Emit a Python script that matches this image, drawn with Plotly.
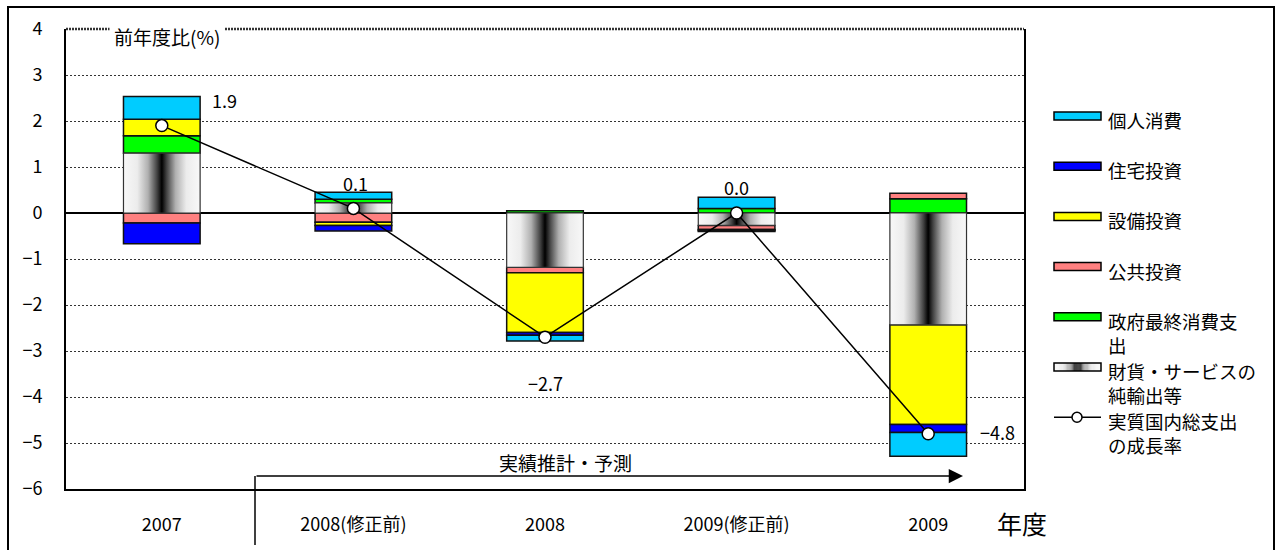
import plotly.graph_objects as go

# ---------------- data ----------------
categories = ["2007", "2008(修正前)", "2008", "2009(修正前)", "2009"]
net_exports = [1.30, 0.22, -1.18, -0.27, -2.43]       # 財貨・サービスの純輸出等
gov_consumption = [0.38, 0.08, 0.05, 0.10, 0.31]     # 政府最終消費支出
public_invest = [-0.22, -0.20, -0.12, -0.09, 0.12]   # 公共投資
capex = [0.36, -0.07, -1.30, -0.02, -2.17]           # 設備投資
housing = [-0.45, -0.12, -0.06, -0.02, -0.17]        # 住宅投資
personal = [0.49, 0.15, -0.12, 0.24, -0.52]          # 個人消費
gdp_growth = [1.9, 0.1, -2.7, 0.0, -4.8]             # 実質国内総支出の成長率

legend_labels = ["個人消費", "住宅投資", "設備投資", "公共投資",
                 "政府最終消費支<br>出", "財貨・サービスの<br>純輸出等",
                 "実質国内総支出<br>の成長率"]
y_title = "前年度比(%)"
x_title = "年度"
arrow_text = "実績推計・予測"

# ---------------- styles ----------------
FONT = "Noto Sans CJK JP"
C_PERSONAL = "#00CCFF"
C_HOUSING = "#0000FF"
C_CAPEX = "#FFFF00"
C_PUBLIC = "#FF8080"
C_GOV = "#00FF00"
BAR_W = 0.4
grad_scale = [[0, "#f8f8f8"], [0.18, "#ececec"], [0.32, "#b0b0b0"], [0.44, "#404040"],
              [0.5, "#000000"], [0.56, "#404040"], [0.68, "#b0b0b0"], [0.82, "#ececec"],
              [1, "#f8f8f8"]]
LEG_FONT = 18.5

W, H = 1282, 550
PL, PR, PT, PB = 66, 1024, 29, 489


def pxx(x):
    return (x - PL) / (PR - PL)


def pxy(y):
    return (PB - y) / (PB - PT)


xs = list(range(len(categories)))
fig = go.Figure()

# invisible base bar for net exports so stacking order is right
fig.add_trace(go.Bar(x=xs, y=net_exports, width=BAR_W, marker=dict(color="rgba(0,0,0,0)", line=dict(width=0)),
                     showlegend=False, hoverinfo="skip"))
stack = [(gov_consumption, C_GOV), (public_invest, C_PUBLIC), (capex, C_CAPEX),
         (housing, C_HOUSING), (personal, C_PERSONAL)]
for vals, col in stack:
    fig.add_trace(go.Bar(x=xs, y=vals, width=BAR_W,
                         marker=dict(color=col, line=dict(color="#111", width=1.5)),
                         showlegend=False))

# gradient boxes for net exports (drawn as filled polygons on the same axes)
for i, v in zip(xs, net_exports):
    x0, x1 = i - BAR_W / 2, i + BAR_W / 2
    fig.add_trace(go.Scatter(x=[x0, x1, x1, x0, x0], y=[0, 0, v, v, 0], mode="lines",
                             fill="toself", line=dict(color="#333", width=1.2),
                             fillgradient=dict(type="horizontal", colorscale=grad_scale, start=x0, stop=x1),
                             showlegend=False, hoverinfo="skip"))

# growth line
fig.add_trace(go.Scatter(x=xs, y=gdp_growth, mode="lines+markers",
                         line=dict(color="black", width=1.5),
                         marker=dict(symbol="circle", size=12, color="white", line=dict(color="black", width=1.5)),
                         showlegend=False))

annotations = []
shapes = []

# value labels
offsets = [(63, 26), (2, 25), (0, -46), (0, 26), (69, 2)]
for i, (v, (dx, dy)) in enumerate(zip(gdp_growth, offsets)):
    annotations.append(dict(x=i, y=v, xref="x", yref="y", text=f"{v:.1f}".replace("-", "−"),
                            showarrow=False, xshift=dx, yshift=dy, xanchor="center", yanchor="middle",
                            font=dict(size=18, color="black")))

# title with white background over top border
annotations.append(dict(x=pxx(167), y=pxy(36), xref="paper", yref="paper", text=y_title, showarrow=False,
                        xanchor="center", yanchor="middle",
                        bgcolor="white", borderpad=4, font=dict(size=19, color="black")))
# x title
annotations.append(dict(x=pxx(1022), y=pxy(523), xref="paper", yref="paper", text=x_title, showarrow=False,
                        xanchor="center", yanchor="middle", font=dict(size=25, color="black")))
# arrow
annotations.append(dict(x=pxx(963), y=pxy(476), ax=-(963 - 255), ay=0, xref="paper", yref="paper",
                        axref="pixel", ayref="pixel", text="", showarrow=True, arrowhead=2,
                        arrowsize=1.9, arrowwidth=1.5, arrowcolor="black"))
annotations.append(dict(x=pxx(565), y=pxy(462), xref="paper", yref="paper", text=arrow_text, showarrow=False,
                        xanchor="center", yanchor="middle", font=dict(size=19, color="black")))
shapes.append(dict(type="line", xref="paper", yref="paper", x0=pxx(255), x1=pxx(255), y0=pxy(476), y1=pxy(545),
                   line=dict(color="black", width=1.5)))

# top border dotted
shapes.append(dict(type="line", xref="paper", yref="paper", x0=0, x1=1, y0=1, y1=1,
                   line=dict(color="#333", width=2.5, dash="2px,1px")))
# outer chart border
shapes.append(dict(type="rect", xref="paper", yref="paper", x0=pxx(8), x1=pxx(1274), y0=pxy(570), y1=pxy(7),
                   line=dict(color="black", width=2), layer="below"))

# legend (manual)
sw_colors = [C_PERSONAL, C_HOUSING, C_CAPEX, C_PUBLIC, C_GOV]


def gcol(t):
    for a, b in zip(grad_scale[:-1], grad_scale[1:]):
        if a[0] <= t <= b[0]:
            ca = int(a[1][1:3], 16)
            cb = int(b[1][1:3], 16)
            f = (t - a[0]) / (b[0] - a[0]) if b[0] > a[0] else 0
            g = round(ca + (cb - ca) * f)
            return f"rgb({g},{g},{g})"
    return "white"


base_y, step = 121, 50.2
for k, lab in enumerate(legend_labels):
    yc = base_y + step * k
    annotations.append(dict(x=pxx(1107), y=pxy(yc - 0.65 * LEG_FONT - 3), xref="paper", yref="paper", text=lab,
                            showarrow=False, xanchor="left", yanchor="top", align="left", borderpad=0,
                            font=dict(size=LEG_FONT, color="black")))
    sy = yc - 5
    if k < 5:
        shapes.append(dict(type="rect", xref="paper", yref="paper", x0=pxx(1054), x1=pxx(1101),
                           y0=pxy(sy + 4), y1=pxy(sy - 4), fillcolor=sw_colors[k],
                           line=dict(color="black", width=1.5)))
    elif k == 5:
        n = 40
        for s in range(n):
            xa = 1054 + 47 * s / n
            xb = 1054 + 47 * (s + 1) / n
            shapes.append(dict(type="rect", xref="paper", yref="paper", x0=pxx(xa), x1=pxx(xb),
                               y0=pxy(sy + 4), y1=pxy(sy - 4), fillcolor=gcol((s + 0.5) / n),
                               line=dict(width=0)))
        shapes.append(dict(type="rect", xref="paper", yref="paper", x0=pxx(1054), x1=pxx(1101),
                           y0=pxy(sy + 4), y1=pxy(sy - 4), line=dict(color="black", width=1.5)))
    else:
        shapes.append(dict(type="line", xref="paper", yref="paper", x0=pxx(1054), x1=pxx(1101),
                           y0=pxy(sy), y1=pxy(sy), line=dict(color="black", width=1.5)))
        shapes.append(dict(type="circle", xref="paper", yref="paper", x0=pxx(1072), x1=pxx(1082),
                           y0=pxy(sy + 5), y1=pxy(sy - 5), fillcolor="white",
                           line=dict(color="black", width=1.5)))

fig.update_layout(
    width=W, height=H, autosize=False,
    margin=dict(l=PL, r=W - PR, t=PT, b=H - PB),
    paper_bgcolor="white", plot_bgcolor="white",
    font=dict(family=FONT, size=17, color="black"),
    barmode="relative", showlegend=False,
    annotations=annotations, shapes=shapes,
    xaxis=dict(range=[-0.5, len(categories) - 0.5], tickvals=xs, ticktext=categories,
               showgrid=False, zeroline=False, showline=True, linecolor="black", linewidth=2,
               ticks="", tickfont=dict(size=18), ticklabelstandoff=18),
    yaxis=dict(range=[-6, 4], dtick=1, tick0=0, showgrid=True, gridcolor="#333", gridwidth=1,
               griddash="2px,2px", zeroline=True, zerolinecolor="black", zerolinewidth=2,
               showline=True, linecolor="black", linewidth=2, mirror=True,
               ticks="", tickfont=dict(size=18), ticklabelstandoff=18),
)

fig.write_html("out.html")
